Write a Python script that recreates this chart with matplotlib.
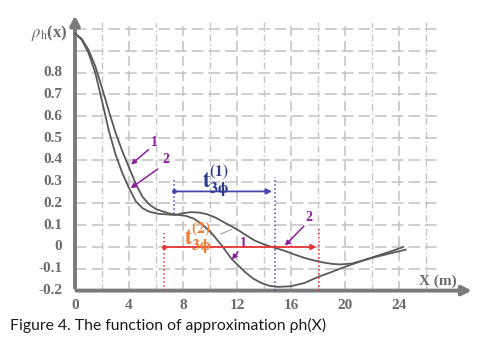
import numpy as np
import matplotlib.pyplot as plt

plt.rcParams['mathtext.fontset'] = 'stix'

# Curve 1 (slow start, deep minimum) and curve 2 (shoulder, shallow minimum)
x1 = [0, 0.5, 1.0, 1.5, 2.0, 2.5, 3.0, 3.5, 4.0, 4.5, 5.0, 5.5, 6.0, 6.9,
      7.5, 8.2, 8.8, 9.4, 10.1, 10.9, 11.6, 12.6, 13.2, 13.8, 14.4, 15, 16, 17,
      18.1, 19, 19.6, 20.5, 21.3, 22, 23.3, 24.5]
y1 = [0.98, 0.955, 0.905, 0.83, 0.73, 0.625, 0.525, 0.44, 0.365, 0.29, 0.23,
      0.195, 0.174, 0.155, 0.148, 0.143, 0.13, 0.105, 0.065, 0.005, -0.055,
      -0.115, -0.145, -0.165, -0.178, -0.183, -0.18, -0.165, -0.135, -0.115,
      -0.10, -0.08, -0.063, -0.05, -0.03, -0.012]
x2 = [0, 0.5, 1.0, 1.5, 2.0, 2.5, 3.0, 3.5, 4.0, 4.5, 5.0, 5.5, 6.2, 7.4,
      8, 8.6, 9.2, 9.8, 10.4, 10.9, 11.5, 12.1, 12.7, 13.3, 14, 14.6, 15.5,
      16.2, 17, 17.6, 18.3, 19, 19.6, 20.5, 21.3, 22, 22.8, 23.5, 24.3]
y2 = [0.98, 0.95, 0.89, 0.80, 0.67, 0.535, 0.425, 0.34, 0.27, 0.21, 0.178,
      0.162, 0.152, 0.147, 0.155, 0.16, 0.158, 0.15, 0.135, 0.118, 0.098,
      0.077, 0.053, 0.03, 0.012, 0.0, -0.017, -0.033, -0.05, -0.06, -0.07,
      -0.077, -0.08, -0.076, -0.062, -0.048, -0.032, -0.018, 0.0]

xticks = [0, 4, 8, 12, 16, 20, 24]
yticks = [0.8, 0.7, 0.6, 0.5, 0.4, 0.3, 0.2, 0.1, 0, -0.1, -0.2]
ytick_labels = ['0.8', '0.7', '0.6', '0.5', '0.4', '0.3', '0.2', '0.1', '0', '-0.1', '-0.2']

# interval markers: t3phi(1) and t3phi(2)
t1_span = [7.3, 14.8]
t1_level = 0.255
t2_span = [6.6, 18.1]
t2_level = 0.0

fig = plt.figure(figsize=(4.82, 3.47), dpi=100)
ax = fig.add_axes([0, 0, 1, 1])
ax.set_xlim(-75 / 13.5, (482 - 75) / 13.5)
ax.set_ylim((247 - 347) / 218, 247 / 218)
ax.axis('off')

grid_c = '#c6c6c6'
# grid
for yv in np.arange(-0.1, 1.01, 0.1):
    ax.plot([0, 27], [yv, yv], color=grid_c, lw=1.2, ls=(0, (7, 3)), zorder=1)
for xv in range(2, 27, 2):
    if xv % 4 == 0:
        ax.plot([xv, xv], [-0.2, 1.03], color=grid_c, lw=1.2, ls=(0, (6, 3)), zorder=1)
    else:
        ax.plot([xv, xv], [-0.2, 1.03], color=grid_c, lw=1.0, ls=(0, (5, 2, 1, 2)), zorder=1)

# axes with arrows
axis_c = '#7a7a7a'
ax.annotate('', xy=(0, 1.075), xytext=(0, -0.2),
            arrowprops=dict(arrowstyle='-|>', color=axis_c, lw=2.8, mutation_scale=14), zorder=3)
ax.annotate('', xy=(29.6, -0.2), xytext=(-0.1, -0.2),
            arrowprops=dict(arrowstyle='-|>', color=axis_c, lw=2.8, mutation_scale=14), zorder=3)

tick_font = dict(family='Liberation Serif', fontweight='bold', color='#6a6a6a', fontsize=11)
for xv in xticks:
    ax.text(xv, -0.24, str(xv), ha='center', va='top', **tick_font)
for yv, lab in zip(yticks, ytick_labels):
    ax.text(-0.95, yv, lab, ha='right', va='center', **tick_font)
ax.text(-1.9, 0.98, r'$\rho_{\mathrm{h}}$(x)', ha='center', va='center',
        family='Liberation Serif', fontweight='bold', color='#6a6a6a', fontsize=12)
ax.text(26.9, -0.155, 'X (m)', ha='center', va='center', **tick_font)

# curves
ax.plot(x1, y1, color='#5a5a5a', lw=1.3, zorder=4)
ax.plot(x2, y2, color='#5a5a5a', lw=1.3, zorder=4)

# blue interval t3phi(1)
blue = '#4646b0'
ax.plot([t1_span[0]] * 2, [0.15, 0.31], color=blue, lw=1.1, ls=':', zorder=5)
ax.plot([t1_span[1]] * 2, [-0.2, 0.32], color=blue, lw=1.1, ls=':', zorder=5)
ax.annotate('', xy=(t1_span[1], t1_level), xytext=(t1_span[0], t1_level),
            arrowprops=dict(arrowstyle='-|>', color=blue, lw=1.3, mutation_scale=8), zorder=5)
ax.plot(t1_span[0], t1_level, 'o', color=blue, ms=2.5, zorder=5)
ax.text(10.4, 0.30, r'$\mathbf{t}^{\mathbf{(1)}}_{\mathbf{3\phi}}$', color='#2e3a8c',
        fontsize=16, ha='center', va='center', zorder=6)

# red interval t3phi(2)
red = '#e83535'
ax.plot([t2_span[0]] * 2, [-0.2, 0.065], color=red, lw=1.1, ls=':', zorder=5)
ax.plot([t2_span[1]] * 2, [-0.2, 0.085], color=red, lw=1.1, ls=':', zorder=5)
ax.annotate('', xy=(t2_span[1], t2_level), xytext=(t2_span[0], t2_level),
            arrowprops=dict(arrowstyle='-|>', color=red, lw=1.3, mutation_scale=8), zorder=5)
ax.plot(t2_span[0], t2_level, 'o', color=red, ms=2.5, zorder=5)
ax.text(9.1, 0.04, r'$\mathbf{t}^{\mathbf{(2)}}_{\mathbf{3\phi}}$', color='#f07a30',
        fontsize=16, ha='center', va='center', zorder=6)
ax.plot([10.8, 11.6], [0.06, 0.08], color='#a0a0a0', lw=0.8, zorder=5)

# purple curve labels
purple = '#8e1e9e'
lab_font = dict(family='Liberation Serif', fontweight='bold', color=purple, fontsize=10)
labels = [('1', (5.9, 0.48), (5.6, 0.455), (4.0, 0.37)),
          ('2', (6.7, 0.40), (6.3, 0.365), (3.95, 0.262)),
          ('1', (12.5, 0.015), (12.2, -0.012), (11.5, -0.068)),
          ('2', (17.3, 0.135), (17.1, 0.105), (15.4, -0.003))]
for txt, lpos, start, tip in labels:
    ax.text(lpos[0], lpos[1], txt, ha='center', va='center', **lab_font)
    ax.annotate('', xy=tip, xytext=start,
                arrowprops=dict(arrowstyle='-|>', color=purple, lw=1.1, mutation_scale=7), zorder=6)

fig.text(10 / 482, 1 - 325 / 347, 'Figure 4. The function of approximation \u03c1h(X)',
         family='Lato', fontsize=11.3, color='#1a1a1a', ha='left', va='center')

fig.savefig('out.png', dpi=100)
